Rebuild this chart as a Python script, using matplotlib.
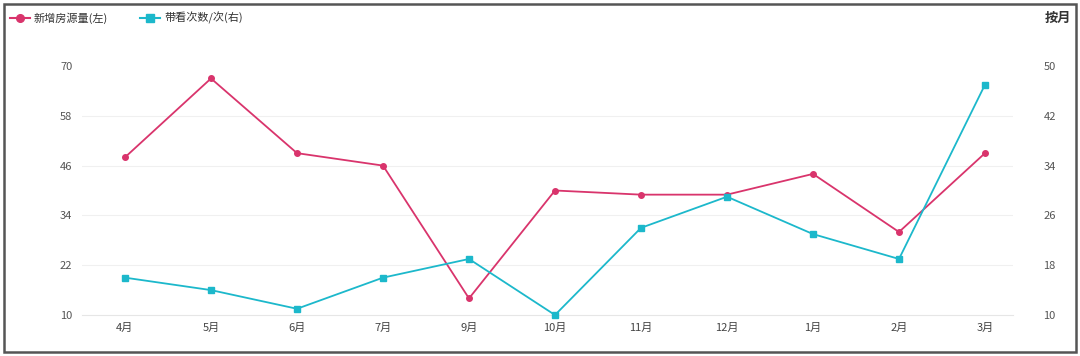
import matplotlib
matplotlib.use("Agg")
import matplotlib.pyplot as plt
from matplotlib.lines import Line2D
from matplotlib.patches import Rectangle

plt.rcParams['font.family'] = ['Noto Sans CJK SC', 'DejaVu Sans']

months = ['4月', '5月', '6月', '7月', '9月', '10月', '11月', '12月', '1月', '2月', '3月']
new_listings = [48, 67, 49, 46, 14, 40, 39, 39, 44, 30, 49]
viewings = [16, 14, 11, 16, 19, 10, 24, 29, 23, 19, 47]
left_ticks = [10, 22, 34, 46, 58, 70]
right_ticks = [10, 18, 26, 34, 42, 50]
label_left = '新增房源量(左)'
label_right = '带看次数/次(右)'
period_label = '按月'

RED = '#d9346c'
CYAN = '#1cb8cb'

W, H = 1080, 356
fig = plt.figure(figsize=(W / 100, H / 100), dpi=100)
fig.patch.set_facecolor('white')

x0, x1 = 82, 1013
ytop, ybot = 66, 315
ax = fig.add_axes([x0 / W, (H - ybot) / H, (x1 - x0) / W, (ybot - ytop) / H])
ax2 = ax.twinx()

xs = list(range(len(months)))
ax.set_xlim(-0.5, 10.5 - 15 / 86)
ax.set_ylim(left_ticks[0], left_ticks[-1])
ax2.set_ylim(right_ticks[0], right_ticks[-1])

for t in left_ticks[1:-1]:
    ax.axhline(t, color='#f0f0f0', lw=0.8, zorder=0)

ax.plot(xs, new_listings, color=RED, lw=1.3, marker='o', ms=4, zorder=3, clip_on=False)
ax2.plot(xs, viewings, color=CYAN, lw=1.3, marker='s', ms=4, zorder=3, clip_on=False)

ax.set_xticks(xs)
ax.set_xticklabels(months)
ax.set_yticks(left_ticks)
ax2.set_yticks(right_ticks)

for a in (ax, ax2):
    for s in a.spines.values():
        s.set_visible(False)
    a.tick_params(length=0, colors='#555555', labelsize=8)
ax.spines['bottom'].set_visible(True)
ax.spines['bottom'].set_color('#e6e6e6')
ax.spines['bottom'].set_linewidth(0.8)
ax.tick_params(axis='x', pad=6, colors='#444444', labelsize=8)
ax.tick_params(axis='y', pad=7)
ax2.tick_params(axis='y', pad=22)
ax.set_facecolor('none')

# legend (manual): "-●-" style handle
def leg(xa, xb, ymid, color, marker, text, tx):
    yy = (H - ymid) / H
    xm = (xa + xb) / 2
    for a_, b_ in ((xa, xm - 4), (xm + 4, xb)):
        fig.add_artist(Line2D([a_ / W, b_ / W], [yy] * 2, color=color, lw=1.5,
                              transform=fig.transFigure))
    fig.add_artist(Line2D([xm / W], [yy], color=color, marker=marker,
                          ms=5.5, transform=fig.transFigure))
    fig.text(tx / W, yy, text, fontsize=8, color='#333333', va='center', ha='left')

leg(10, 30, 18, RED, 'o', label_left, 34)
leg(140, 160, 18, CYAN, 's', label_right, 164)

fig.text(1058 / W, (H - 18) / H, period_label, fontsize=9.5, color='#333333',
         va='center', ha='center', fontweight='bold')

fig.add_artist(Rectangle((4 / W, 4 / H), (1072) / W, (348) / H, fill=False,
                         edgecolor='#555555', lw=1.8, transform=fig.transFigure))

fig.savefig('out.png', dpi=100, facecolor='white')
